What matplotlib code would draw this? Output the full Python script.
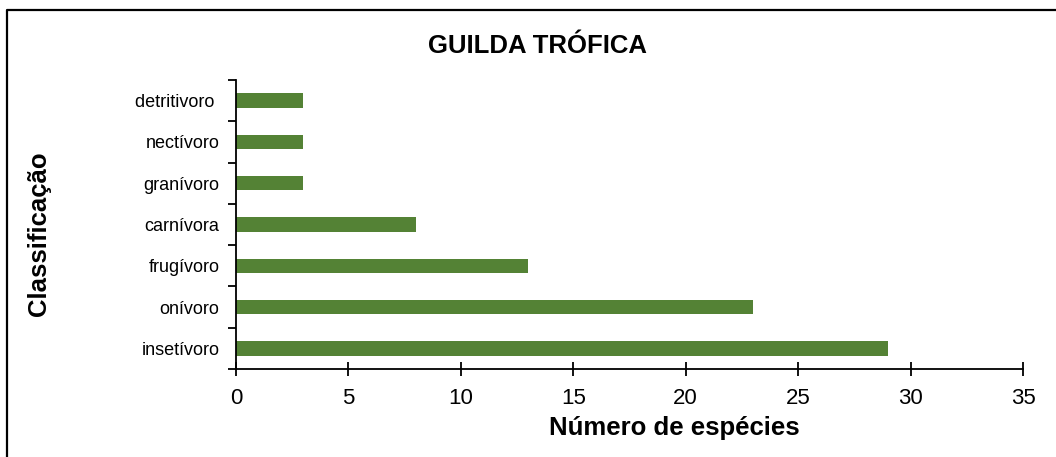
import matplotlib
matplotlib.use("Agg")
import matplotlib.pyplot as plt
from matplotlib.lines import Line2D

plt.rcParams['font.family'] = ['Liberation Sans', 'DejaVu Sans']

categories = ["insetívoro", "onívoro", "frugívoro", "carnívora", "granívoro", "nectívoro", "detritivoro "]
counts = [29, 23, 13, 8, 3, 3, 3]
x_ticks = [0, 5, 10, 15, 20, 25, 30, 35]

W, H = 1056, 457
fig = plt.figure(figsize=(W / 100, H / 100), dpi=100)
ax = fig.add_axes([236 / W, 1 - 369 / H, (1023 - 236) / W, (369 - 80) / H])

ypos = list(range(len(categories)))
ax.barh(ypos, counts, height=0.35, color="#548235", zorder=2)

ax.set_xlim(0, 35)
ax.set_ylim(-0.5, len(categories) - 0.5)
ax.set_xticks(x_ticks)
ax.set_xticklabels([str(t) for t in x_ticks], fontsize=16)
ax.tick_params(axis='x', direction='inout', length=10, width=1.3, pad=9)

# category labels at bar centres, tick marks at category boundaries
ax.set_yticks(ypos)
ax.set_yticklabels(categories, fontsize=13)
ax.tick_params(axis='y', length=0, pad=12)
ax.set_yticks([i - 0.5 for i in range(len(categories) + 1)], minor=True)
ax.tick_params(axis='y', which='minor', direction='out', length=6, width=1.3)

for s in ['top', 'right']:
    ax.spines[s].set_visible(False)
for s in ['left', 'bottom']:
    ax.spines[s].set_linewidth(1.3)

ax.set_xlabel("")
fig.text(674 / W, 1 - 428 / H, "Número de espécies", fontsize=18.5,
         fontweight='bold', ha='center', va='center')
fig.text(39 / W, 1 - 234 / H, "Classificação", fontsize=18.5,
         fontweight='bold', ha='center', va='center', rotation=90)
fig.text(537 / W, 1 - 46 / H, "GUILDA TRÓFICA", fontsize=18.5,
         fontweight='bold', ha='center', va='center')

# chart area border (top and left edges fall inside the canvas)
fig.lines.append(Line2D([7 / W, 7 / W, 1.0], [0.0, 1 - 10 / H, 1 - 10 / H],
                        transform=fig.transFigure, color='black', linewidth=1.6))

fig.savefig("out.png", dpi=100)
